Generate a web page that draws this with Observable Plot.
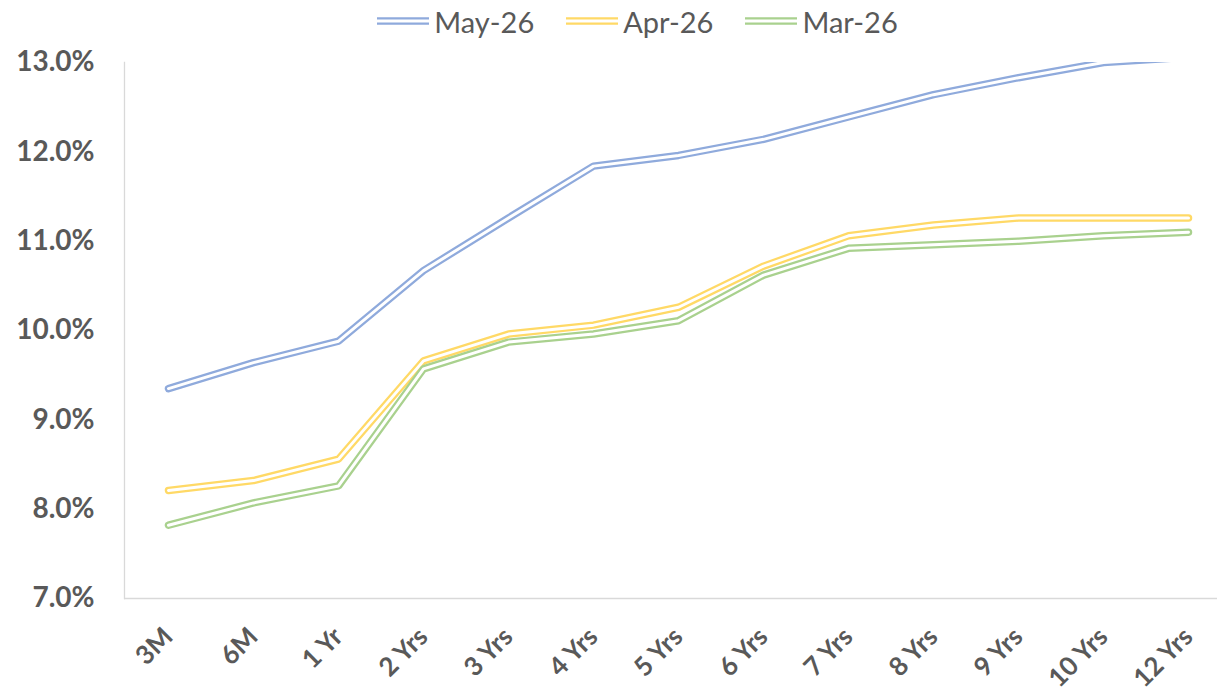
<!DOCTYPE html>
<html>
<head>
<meta charset="utf-8">
<script src="https://cdn.jsdelivr.net/npm/d3@7"></script>
<script src="https://cdn.jsdelivr.net/npm/@observablehq/plot@0.6"></script>
<style>
  html, body { margin: 0; padding: 0; background: #fff; }
  body { width: 1217px; height: 692px; overflow: hidden; font-family: Lato, "Open Sans", sans-serif; }
  #legend { height: 42px; padding-left: 58px; display: flex; justify-content: center; align-items: center; color: #595959; font-size: 29px; }
  #legend .item { display: flex; align-items: center; margin: 0 16px; }
  #legend svg { margin-right: 5px; }
</style>
</head>
<body>
<div id="legend"></div>
<div id="chart"></div>
<script>
const categories = ["3M", "6M", "1 Yr", "2 Yrs", "3 Yrs", "4 Yrs", "5 Yrs", "6 Yrs", "7 Yrs", "8 Yrs", "9 Yrs", "10 Yrs", "12 Yrs"];
const may26 = [9.35, 9.64, 9.88, 10.67, 11.26, 11.84, 11.96, 12.14, 12.39, 12.64, 12.83, 13.00, 13.06];
const apr26 = [8.21, 8.32, 8.56, 9.66, 9.96, 10.06, 10.26, 10.72, 11.06, 11.18, 11.26, 11.26, 11.26];
const mar26 = [7.82, 8.07, 8.26, 9.57, 9.87, 9.96, 10.11, 10.62, 10.92, 10.96, 11.00, 11.06, 11.10];
const seriesNames = ["May-26", "Apr-26", "Mar-26"];
const seriesColors = ["#8FAADC", "#FFD966", "#A9D18E"];
const yTicks = [7, 8, 9, 10, 11, 12, 13];

const seriesValues = [may26, apr26, mar26];
const series = seriesNames.map((name, i) => ({
  name, color: seriesColors[i],
  data: categories.map((c, j) => ({cat: c, value: seriesValues[i][j]}))
}));

// Legend
const legend = document.getElementById("legend");
series.forEach(s => {
  const item = document.createElement("div");
  item.className = "item";
  item.innerHTML = `<svg width="52" height="10"><line x1="0" x2="52" y1="5" y2="5" stroke="${s.color}" stroke-width="7.5"/><line x1="0" x2="52" y1="5" y2="5" stroke="#fff" stroke-width="3"/></svg><span>${s.name}</span>`;
  legend.appendChild(item);
});

const marks = [];
series.forEach(s => {
  marks.push(Plot.line(s.data, {x: "cat", y: "value", stroke: s.color, strokeWidth: 7.5, clip: "frame", strokeLinejoin: "miter"}));
  marks.push(Plot.line(s.data, {x: "cat", y: "value", stroke: "#fff", strokeWidth: 3, clip: "frame", strokeLinejoin: "miter"}));
});

const chart = Plot.plot({
  width: 1217,
  height: 650,
  marginLeft: 124,
  marginRight: 0,
  marginTop: 20,
  marginBottom: 94,
  style: {fontFamily: "Lato, 'Open Sans', sans-serif", background: "#fff"},
  x: {type: "point", domain: categories, range: [166.7, 1190.3], padding: 0},
  y: {domain: [7, 13]},
  marks: [
    Plot.frame({anchor: "left", stroke: "#D9D9D9", strokeWidth: 1.3}),
    Plot.ruleY([7], {stroke: "#D9D9D9", strokeWidth: 1.3}),
    Plot.axisY({ticks: yTicks, tickSize: 0, tickPadding: 30, tickFormat: d => d.toFixed(1) + "%", fontSize: 28, fontWeight: "bold", fill: "#595959", label: null}),
    Plot.axisX({tickSize: 0, tickRotate: -45, tickPadding: 34, fontSize: 26, fontWeight: "bold", fill: "#595959", label: null}),
    ...marks
  ]
});
document.getElementById("chart").appendChild(chart);
</script>
</body>
</html>
